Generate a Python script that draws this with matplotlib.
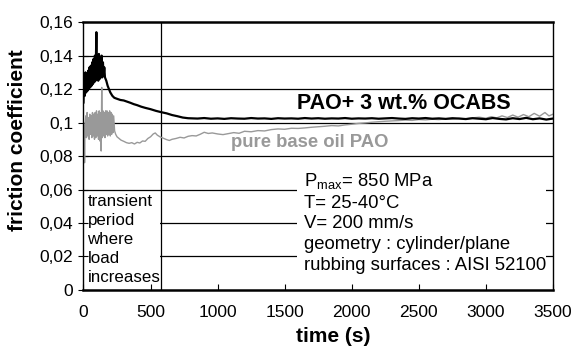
import matplotlib
matplotlib.use("Agg")
import matplotlib.pyplot as plt
from matplotlib.patches import Rectangle

plt.rcParams['font.family'] = ['Liberation Sans', 'DejaVu Sans']
plt.rcParams['mathtext.fontset'] = 'custom'
plt.rcParams['mathtext.rm'] = 'Liberation Sans'

# PAO + 3 wt.% OCABS (black)
ocabs_t = [0, 5, 10, 15, 20, 25, 30, 35, 40, 45, 50, 55, 60, 65, 70, 75, 80, 85, 90, 96,
           100, 105, 110, 115, 120, 125, 130, 135, 140, 145, 150, 155, 160, 170, 180, 190,
           200, 215, 230, 250, 275, 300, 325, 350, 375, 400, 430, 460, 500, 540, 580, 620,
           660, 700, 740, 780, 850, 900, 950, 1000, 1050, 1100, 1150, 1200, 1250, 1300,
           1350, 1400, 1450, 1500, 1550, 1600, 1650, 1700, 1750, 1800, 1850, 1900, 1950,
           2000, 2050, 2100, 2150, 2200, 2250, 2300, 2350, 2400, 2450, 2500, 2550, 2600,
           2650, 2700, 2750, 2800, 2850, 2900, 2950, 3000, 3050, 3100, 3150, 3200, 3250,
           3300, 3350, 3400, 3450, 3500]
ocabs_mu = [0.112, 0.128, 0.116, 0.130, 0.118, 0.129, 0.119, 0.131, 0.120, 0.133, 0.121,
            0.134, 0.122, 0.136, 0.123, 0.138, 0.124, 0.140, 0.125, 0.154, 0.126, 0.139,
            0.125, 0.141, 0.126, 0.138, 0.127, 0.140, 0.127, 0.136, 0.128, 0.133, 0.127,
            0.125, 0.122, 0.120, 0.118, 0.116, 0.1148, 0.1142, 0.1135, 0.1132, 0.1125,
            0.1118, 0.1110, 0.1104, 0.1095, 0.1088, 0.1080, 0.1070, 0.1062, 0.1055, 0.1045,
            0.1038, 0.1030, 0.1026, 0.1024, 0.1027, 0.1023, 0.1025, 0.1022, 0.1026, 0.1024,
            0.1023, 0.1027, 0.1024, 0.1025, 0.1022, 0.1026, 0.1024, 0.1025, 0.1023, 0.1027,
            0.1024, 0.1026, 0.1023, 0.1025, 0.1024, 0.1027, 0.1023, 0.1025, 0.1024, 0.1026,
            0.1023, 0.1025, 0.1027, 0.1024, 0.1022, 0.1026, 0.1024, 0.1027, 0.1023, 0.1025,
            0.1022, 0.1026, 0.1024, 0.1021, 0.1026, 0.1023, 0.1020, 0.1027, 0.1022, 0.1019,
            0.1026, 0.1021, 0.1028, 0.1020, 0.1025, 0.1018, 0.1024]

# pure base oil PAO (grey)
pao_t = [0, 5, 8, 12, 17, 22, 27, 32, 37, 42, 47, 52, 57, 62, 67, 72, 77, 82, 87, 92, 97,
         102, 107, 112, 117, 122, 127, 132, 136, 140, 145, 150, 155, 160, 165, 170, 175,
         180, 185, 190, 195, 200, 205, 210, 215, 220, 225, 232, 240, 250, 265, 280, 300,
         320, 340, 360, 380, 400, 420, 440, 460, 480, 500, 520, 535, 550, 570, 600, 620,
         640, 660, 690, 720, 750, 780, 810, 840, 870, 900, 930, 960, 1000, 1040, 1080,
         1120, 1160, 1200, 1250, 1300, 1350, 1400, 1450, 1500, 1550, 1600, 1650, 1700,
         1750, 1800, 1850, 1900, 1950, 2000, 2050, 2100, 2150, 2200, 2250, 2300, 2350,
         2400, 2450, 2500, 2550, 2600, 2650, 2700, 2750, 2800, 2850, 2900, 2950, 3000,
         3040, 3080, 3120, 3160, 3200, 3240, 3280, 3320, 3360, 3400, 3440, 3470, 3500]
pao_mu = [0.100, 0.095, 0.076, 0.098, 0.104, 0.091, 0.106, 0.092, 0.103, 0.090, 0.105,
          0.093, 0.104, 0.091, 0.106, 0.092, 0.105, 0.090, 0.106, 0.091, 0.107, 0.092,
          0.105, 0.090, 0.107, 0.089, 0.106, 0.083, 0.121, 0.091, 0.107, 0.092, 0.106,
          0.091, 0.107, 0.093, 0.107, 0.092, 0.106, 0.093, 0.107, 0.092, 0.106, 0.093,
          0.105, 0.094, 0.104, 0.095, 0.093, 0.0915, 0.0905, 0.0895, 0.0888, 0.0880,
          0.0876, 0.0880, 0.0872, 0.0882, 0.0878, 0.0890, 0.0888, 0.0905, 0.0915, 0.0932,
          0.0938, 0.0925, 0.0915, 0.0905, 0.0898, 0.0893, 0.0900, 0.0905, 0.0912, 0.0908,
          0.0918, 0.0922, 0.0920, 0.0930, 0.0942, 0.0935, 0.0938, 0.0932, 0.0928, 0.0934,
          0.0940, 0.0936, 0.0948, 0.0945, 0.0952, 0.0950, 0.0958, 0.0962, 0.0960, 0.0966,
          0.0965, 0.0968, 0.0972, 0.0975, 0.0978, 0.0982, 0.0980, 0.0986, 0.0990, 0.0995,
          0.0998, 0.1002, 0.1005, 0.1008, 0.1010, 0.1012, 0.1015, 0.1013, 0.1018, 0.1016,
          0.1020, 0.1018, 0.1022, 0.1020, 0.1025, 0.1022, 0.1028, 0.1032, 0.1026, 0.1035,
          0.1028, 0.1040, 0.1030, 0.1045, 0.1032, 0.1048, 0.1035, 0.1055, 0.1038, 0.1060,
          0.1040, 0.1050]

x_ticks = [0, 500, 1000, 1500, 2000, 2500, 3000, 3500]
y_ticks = [0, 0.02, 0.04, 0.06, 0.08, 0.1, 0.12, 0.14, 0.16]
y_tick_labels = ['0', '0,02', '0,04', '0,06', '0,08', '0,1', '0,12', '0,14', '0,16']
transient_end = 580

fig = plt.figure(figsize=(5.75, 3.46), dpi=100)
ax = fig.add_axes([0.1452, 0.162, 0.8165, 0.774])

for y in y_ticks[1:-1]:
    ax.axhline(y, color='black', lw=0.9, zorder=0.5)
ax.axvline(transient_end, color='black', lw=0.9, zorder=0.6)

# white boxes behind the annotations hide the grid lines
ax.add_patch(Rectangle((0, 0), transient_end - 8, 0.0585, facecolor='white',
                       edgecolor='none', zorder=1))
ax.add_patch(Rectangle((1590, 0.001), 1860, 0.068, facecolor='white',
                       edgecolor='none', zorder=1))

ax.plot(pao_t, pao_mu, color='#999999', lw=1.0, zorder=2)
ax.plot(ocabs_t, ocabs_mu, color='black', lw=1.6, zorder=3)

ax.text(2385, 0.1116, 'PAO+ 3 wt.% OCABS', fontsize=15.5, fontweight='bold',
        ha='center', va='center', zorder=4)
ax.text(1686, 0.0878, 'pure base oil PAO', fontsize=13.3, fontweight='bold',
        color='#999999', ha='center', va='center', zorder=4)
ax.text(1642, 0.0712, 'P$_{\\mathrm{max}}$= 850 MPa\nT= 25-40\u00b0C\nV= 200 mm/s\n'
        'geometry : cylinder/plane\nrubbing surfaces : AISI 52100',
        fontsize=13.3, ha='left', va='top', linespacing=1.29, zorder=4)
ax.text(30, 0.0572, 'transient\nperiod\nwhere\nload\nincreases',
        fontsize=12.2, ha='left', va='top', linespacing=1.32, zorder=4)

ax.set_xlim(0, 3500)
ax.set_ylim(0, 0.16)
ax.set_xticks(x_ticks)
ax.set_yticks(y_ticks)
ax.set_yticklabels(y_tick_labels)
ax.tick_params(axis='x', direction='in', length=4, labelsize=12.5, pad=11)
ax.tick_params(axis='y', direction='inout', length=7, labelsize=12.5, pad=4)
for side in ['left', 'right']:
    ax.spines[side].set_linewidth(1.0)
for side in ['top', 'bottom']:
    ax.spines[side].set_linewidth(1.8)

ax.set_xlabel('time (s)', fontsize=15, fontweight='bold')
ax.set_ylabel('friction coefficient', fontsize=15, fontweight='bold')
ax.xaxis.set_label_coords(0.533, -0.14)
ax.yaxis.set_label_coords(-0.121, 0.56)

fig.savefig('out.png', dpi=100)
